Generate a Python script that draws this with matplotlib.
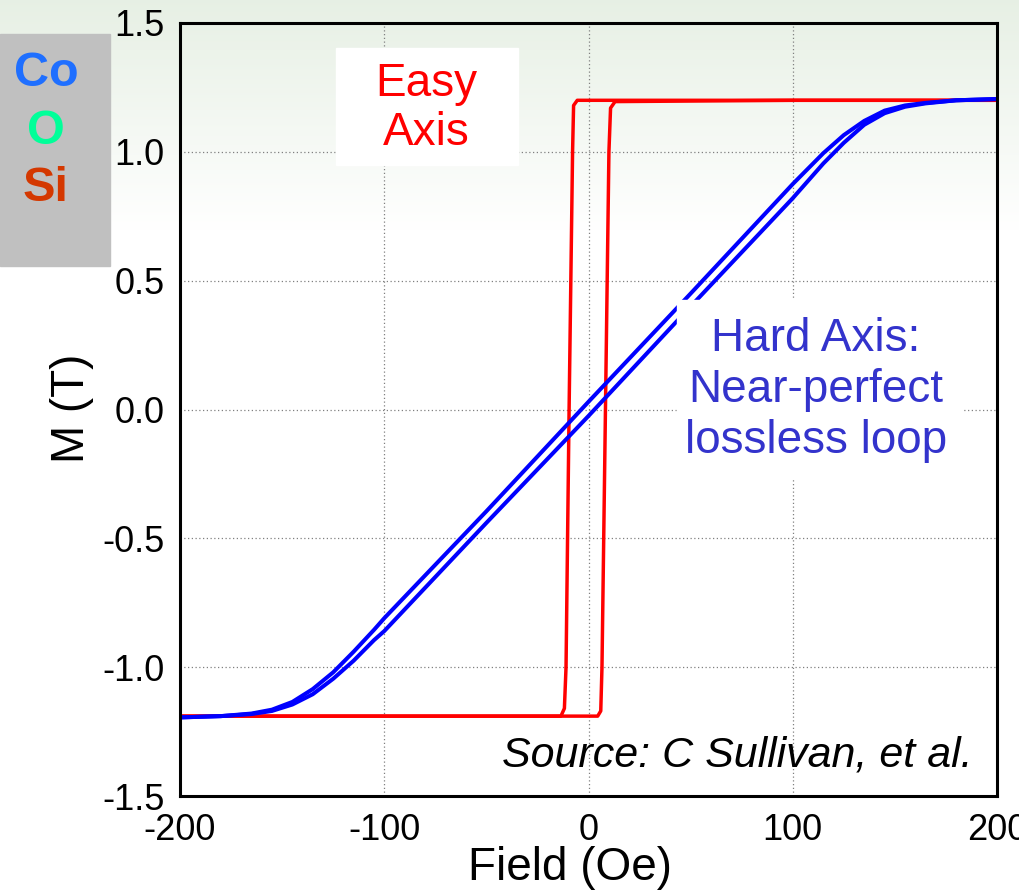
import numpy as np
import matplotlib.pyplot as plt
from matplotlib.patches import Rectangle

plt.rcParams['font.family'] = ['Liberation Sans', 'DejaVu Sans']
plt.rcParams['axes.unicode_minus'] = False

# eixo facil (laco quadrado) - ramo descendo e ramo subindo
easy_down_h = [200, 100, 0, -5.5, -7.3, -7.8, -9.5, -11.0, -11.8, -13.5, -100, -200]
easy_down_m = [1.20, 1.20, 1.20, 1.20, 1.18, 1.0, 0.0, -1.0, -1.16, -1.19, -1.19, -1.19]
easy_up_h = [-200, -100, 0, 4.5, 6.0, 6.6, 8.3, 10.0, 10.8, 13.0, 100, 200]
easy_up_m = [-1.19, -1.19, -1.19, -1.19, -1.17, -1.0, 0.0, 1.0, 1.17, 1.195, 1.20, 1.20]

# eixo duro (quase linear)
hard_down_h = [200, 180, 165, 155, 145, 135, 125, 115, 105, 100, 50, 0, -50, -100, -105,
               -115, -125, -135, -145, -155, -165, -180, -200]
hard_down_m = [1.205, 1.20, 1.19, 1.18, 1.16, 1.12, 1.065, 0.995, 0.915, 0.875, 0.45, 0.03,
               -0.395, -0.81, -0.855, -0.94, -1.02, -1.085, -1.135, -1.165, -1.18, -1.19, -1.195]
hard_up_h = [-200, -180, -165, -155, -145, -135, -125, -115, -105, -100, -50, 0, 50, 100, 105,
             115, 125, 135, 145, 155, 165, 180, 200]
hard_up_m = [-1.195, -1.19, -1.182, -1.17, -1.145, -1.105, -1.045, -0.975, -0.895, -0.86, -0.44,
             -0.025, 0.40, 0.82, 0.865, 0.955, 1.035, 1.105, 1.15, 1.175, 1.188, 1.20, 1.205]

x_ticks = [-200, -100, 0, 100, 200]
y_ticks = [-1.5, -1.0, -0.5, 0.0, 0.5, 1.0, 1.5]

W, H = 1019, 894
fig = plt.figure(figsize=(W / 100, H / 100), dpi=100)

# fundo do slide com degrade esverdeado no topo
bg = fig.add_axes([0, 0, 1, 1], zorder=-10)
t = np.clip(np.arange(H) / 230.0, 0, 1)[:, None, None]
topo = np.array([0.905, 0.94, 0.895])
grad = topo * (1 - t) + np.ones(3) * t
grad = np.repeat(grad, 2, axis=1)
bg.imshow(grad, extent=[0, 1, 0, 1], aspect='auto', origin='upper')
bg.add_patch(Rectangle((0, 1 - 266 / H), 110 / W, 232 / H, color='#c0c0c0'))
bg.set_xlim(0, 1)
bg.set_ylim(0, 1)
bg.axis('off')

fig.text(46 / W, 1 - 73 / H, 'Co', color='#1f6fff', fontsize=35, fontweight='bold', ha='center', va='center')
fig.text(46 / W, 1 - 132 / H, 'O', color='#00ff99', fontsize=35, fontweight='bold', ha='center', va='center')
fig.text(46 / W, 1 - 188 / H, 'Si', color='#d43800', fontsize=35, fontweight='bold', ha='center', va='center')

# grafico principal
ax = fig.add_axes([180 / W, 98 / H, 817 / W, 773 / H])
ax.set_facecolor('none')

ax.plot(easy_down_h, easy_down_m, color='#ff0000', lw=2.5, zorder=2)
ax.plot(easy_up_h, easy_up_m, color='#ff0000', lw=2.5, zorder=2)
ax.plot(hard_down_h, hard_down_m, color='#0000ff', lw=2.9, zorder=2.5)
ax.plot(hard_up_h, hard_up_m, color='#0000ff', lw=2.9, zorder=2.5)

ax.set_xlim(-200, 200)
ax.set_ylim(-1.5, 1.5)
ax.set_xticks(x_ticks)
ax.set_xticklabels([str(v) for v in x_ticks])
ax.set_yticks(y_ticks)
ax.set_yticklabels(['%.1f' % v for v in y_ticks])
ax.tick_params(length=0, labelsize=26)
ax.tick_params(axis='y', pad=11)
ax.tick_params(axis='x', pad=12)
ax.grid(True, ls=(0, (1, 2)), color='#808080', lw=0.9, zorder=1)
for s in ax.spines.values():
    s.set_linewidth(2.2)
    s.set_color('black')
    s.set_zorder(5)

ax.set_xlabel('Field (Oe)', fontsize=33)
ax.xaxis.set_label_coords((570 - 180) / 817, -(880 - 796) / 773)
ax.xaxis.label.set_verticalalignment('baseline')
ax.set_ylabel('M (T)', fontsize=33)
ax.yaxis.set_label_coords((72 - 180) / 817, (796 - 408) / 773)
ax.yaxis.label.set_verticalalignment('center')

# caixas brancas das anotacoes
ax.add_patch(Rectangle(((336 - 180) / 817, (796 - 165) / 773), 182 / 817, 117 / 773,
                       transform=ax.transAxes, color='white', zorder=3))
ax.add_patch(Rectangle(((677 - 180) / 817, (796 - 478) / 773), 285 / 817, 178 / 773,
                       transform=ax.transAxes, color='white', zorder=3))

ax.text((426 - 180) / 817, (796 - 108.5) / 773, 'Easy\nAxis', color='#ff0000', fontsize=33,
        ha='center', va='center', multialignment='center', linespacing=1.15,
        transform=ax.transAxes, zorder=4)
ax.text((816 - 180) / 817, (796 - 390) / 773, 'Hard Axis:\nNear-perfect\nlossless loop',
        color='#3333cc', fontsize=33, ha='center', va='center', multialignment='center',
        linespacing=1.2, transform=ax.transAxes, zorder=4)
ax.text((973 - 180) / 817, (796 - 767) / 773, 'Source: C Sullivan, et al.', fontsize=31,
        style='italic', ha='right', va='baseline', transform=ax.transAxes, zorder=4)

fig.savefig('out.png', dpi=100)
